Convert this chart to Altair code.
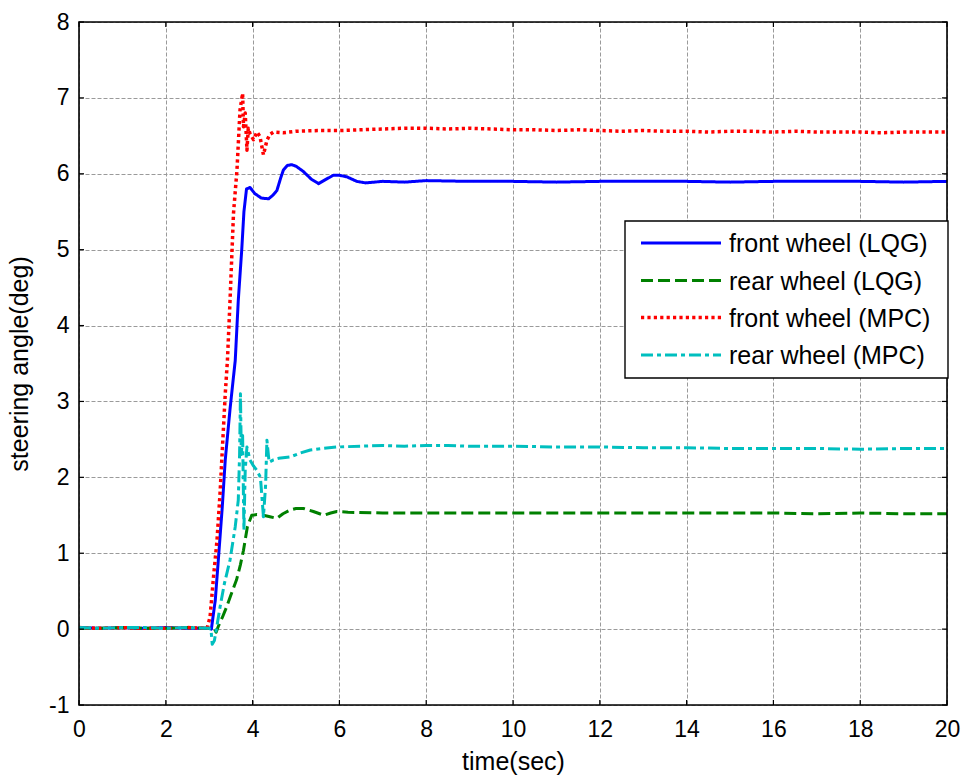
import altair as alt
import pandas as pd

# ---------------- data ----------------
series_names = ["front wheel (LQG)", "rear wheel (LQG)", "front wheel (MPC)", "rear wheel (MPC)"]
series_colors = ["#0000ff", "#008000", "#ff0000", "#00bfbf"]

t_front_lqg = [0, 0.5, 1, 1.5, 2, 2.5, 3.0, 3.05, 3.14, 3.21, 3.3, 3.37, 3.48, 3.6, 3.67, 3.75, 3.8,
               3.86, 3.94, 4.05, 4.2, 4.37, 4.47, 4.56, 4.65, 4.71, 4.8, 4.9, 5.0, 5.17, 5.35, 5.52,
               5.7, 5.86, 6.0, 6.17, 6.4, 6.6, 7, 7.5, 8, 9, 10, 11, 12, 13, 14, 15, 16, 17, 18, 19, 20]
y_front_lqg = [0.02, 0.01, 0.02, 0.01, 0.02, 0.01, 0.01, 0.0, 0.38, 0.91, 1.6, 2.23, 2.9, 3.54, 4.33,
               5.0, 5.5, 5.8, 5.82, 5.74, 5.68, 5.67, 5.72, 5.78, 5.95, 6.05, 6.11, 6.12, 6.1, 6.03,
               5.93, 5.87, 5.93, 5.98, 5.98, 5.96, 5.9, 5.88, 5.9, 5.89, 5.91, 5.9, 5.9, 5.89, 5.9,
               5.9, 5.9, 5.89, 5.9, 5.9, 5.9, 5.89, 5.9]

t_rear_lqg = [0, 0.5, 1, 1.5, 2, 2.5, 3.0, 3.12, 3.16, 3.22, 3.3, 3.4, 3.5, 3.63, 3.72, 3.79, 3.88,
              3.98, 4.1, 4.25, 4.4, 4.56, 4.7, 4.87, 5.0, 5.17, 5.4, 5.64, 5.8, 5.94, 6.2, 7, 8, 9,
              10, 11, 12, 13, 14, 15, 16, 17, 18, 19, 20]
y_rear_lqg = [0.01, 0.01, 0.02, 0.01, 0.01, 0.02, 0.01, 0.0, -0.04, 0.05, 0.15, 0.29, 0.45, 0.65,
              0.85, 1.04, 1.35, 1.5, 1.51, 1.5, 1.48, 1.46, 1.52, 1.57, 1.59, 1.59, 1.55, 1.5, 1.53,
              1.55, 1.54, 1.53, 1.53, 1.53, 1.53, 1.53, 1.53, 1.53, 1.53, 1.53, 1.53, 1.52, 1.53,
              1.52, 1.52]

t_front_mpc = [0, 0.5, 1, 1.5, 2, 2.5, 2.95, 3.02, 3.1, 3.18, 3.25, 3.29, 3.37, 3.42, 3.48, 3.56,
               3.64, 3.71, 3.77, 3.79, 3.83, 3.87, 3.9, 3.94, 4.02, 4.1, 4.17, 4.25, 4.33, 4.4, 4.48,
               4.7, 5.0, 5.5, 6.0, 6.5, 7.0, 7.5, 8.0, 8.5, 9.0, 9.5, 10, 10.5, 11, 11.5, 12, 12.5,
               13, 13.5, 14, 14.5, 15, 15.5, 16, 16.5, 17, 17.5, 18, 18.5, 19, 19.5, 20]
y_front_mpc = [0.02, 0.01, 0.02, 0.01, 0.01, 0.02, 0.01, 0.16, 0.69, 1.17, 1.79, 2.23, 3.1, 3.54,
               4.33, 5.48, 6.05, 6.84, 7.06, 6.62, 6.8, 6.31, 6.6, 6.53, 6.45, 6.55, 6.49, 6.25,
               6.44, 6.52, 6.55, 6.54, 6.56, 6.57, 6.57, 6.58, 6.59, 6.6, 6.6, 6.59, 6.6, 6.59,
               6.58, 6.58, 6.57, 6.58, 6.57, 6.56, 6.57, 6.56, 6.56, 6.55, 6.56, 6.56, 6.55, 6.56,
               6.55, 6.55, 6.55, 6.54, 6.55, 6.55, 6.55]

t_rear_mpc = [0, 0.5, 1, 1.5, 2, 2.5, 3.0, 3.04, 3.07, 3.12, 3.18, 3.25, 3.35, 3.48, 3.6, 3.67, 3.7,
              3.72, 3.74, 3.77, 3.8, 3.83, 3.87, 3.94, 4.02, 4.1, 4.18, 4.25, 4.3, 4.33, 4.38, 4.48,
              4.6, 4.87, 5.1, 5.33, 5.6, 5.94, 6.5, 7, 7.5, 8, 8.5, 9, 10, 11, 12, 13, 14, 15, 16,
              17, 18, 19, 20]
y_rear_mpc = [0.02, 0.01, 0.02, 0.02, 0.01, 0.02, 0.01, 0.0, -0.2, -0.15, 0.05, 0.29, 0.6, 0.91,
              1.35, 1.7, 2.3, 3.1, 2.3, 2.55, 1.3, 2.1, 2.4, 2.23, 2.15, 2.09, 2.0, 1.48, 1.9, 2.49,
              2.2, 2.23, 2.25, 2.27, 2.32, 2.36, 2.38, 2.4, 2.41, 2.42, 2.41, 2.42, 2.42, 2.41, 2.41,
              2.4, 2.4, 2.39, 2.39, 2.38, 2.38, 2.38, 2.37, 2.38, 2.38]

x_ticks = [0, 2, 4, 6, 8, 10, 12, 14, 16, 18, 20]
y_ticks = [-1, 0, 1, 2, 3, 4, 5, 6, 7, 8]

# ---------------- build tables ----------------
frames = []
for name, ts, ys in zip(series_names,
                        [t_front_lqg, t_rear_lqg, t_front_mpc, t_rear_mpc],
                        [y_front_lqg, y_rear_lqg, y_front_mpc, y_rear_mpc]):
    frames.append(pd.DataFrame({"t": ts, "angle": ys, "series": name}))
df = pd.concat(frames, ignore_index=True)

W, H = 868, 683
FONT = "Liberation Sans"
dashes = [[1, 0], [12, 5], [3.2, 3.2], [12, 4, 4, 4]]
widths = [3, 3, 3.5, 3]

x_scale = alt.Scale(domain=[0, 20], nice=False, zero=False)
y_scale = alt.Scale(domain=[-1, 8], nice=False, zero=False)

GRID_COLOR = "#9a9a9a"
x_axis = alt.Axis(values=x_ticks, grid=True, gridDash=[4, 2], gridColor=GRID_COLOR, gridWidth=1,
                  ticks=False, tickSize=0, domain=False, labelFontSize=23, labelPadding=13,
                  labelFlush=False, labelOverlap=False, labelColor="black", labelFont=FONT,
                  title="time(sec)", titleFontSize=25, titleFontWeight="normal", titleFont=FONT,
                  titleColor="black", titleX=W / 2, titleY=64, titleAlign="center",
                  titleBaseline="alphabetic")
y_axis = alt.Axis(values=y_ticks, grid=True, gridDash=[4, 2], gridColor=GRID_COLOR, gridWidth=1,
                  ticks=False, tickSize=0, domain=False, labelFontSize=23, labelPadding=10,
                  labelFlush=False, labelOverlap=False, labelColor="black", labelFont=FONT,
                  labelExpr="'' + datum.value",
                  title="steering angle(deg)", titleFontSize=25, titleFontWeight="normal",
                  titleFont=FONT, titleColor="black", titleAngle=270, titleX=-52, titleY=H / 2,
                  titleAlign="center", titleBaseline="alphabetic")

layers = []
base = alt.Chart(df)
for i, name in enumerate(series_names):
    layers.append(
        base.transform_filter(alt.datum.series == name)
        .mark_line(strokeWidth=widths[i], strokeDash=dashes[i], clip=True, strokeJoin="round")
        .encode(
            x=alt.X("t:Q", scale=x_scale, axis=x_axis),
            y=alt.Y("angle:Q", scale=y_scale, axis=y_axis),
            color=alt.Color("series:N",
                            scale=alt.Scale(domain=series_names, range=series_colors),
                            legend=None),
        )
    )

# inward ticks on all four sides
xt = pd.DataFrame({"t": x_ticks})
yt = pd.DataFrame({"angle": y_ticks})
TL = 5
tick_layers = [
    alt.Chart(xt).mark_rule(color="black", strokeWidth=1.2).encode(
        x=alt.X("t:Q", scale=x_scale, axis=x_axis), y=alt.value(H), y2=alt.value(H - TL)),
    alt.Chart(xt).mark_rule(color="black", strokeWidth=1.2).encode(
        x=alt.X("t:Q", scale=x_scale, axis=x_axis), y=alt.value(0), y2=alt.value(TL)),
    alt.Chart(yt).mark_rule(color="black", strokeWidth=1.2).encode(
        y=alt.Y("angle:Q", scale=y_scale, axis=y_axis), x=alt.value(0), x2=alt.value(TL)),
    alt.Chart(yt).mark_rule(color="black", strokeWidth=1.2).encode(
        y=alt.Y("angle:Q", scale=y_scale, axis=y_axis), x=alt.value(W), x2=alt.value(W - TL)),
]

# plot frame drawn on top of the grid
frame_layer = alt.Chart(pd.DataFrame({"a": [0]})).mark_rect(
    fill=None, stroke="black", strokeWidth=1.6
).encode(x=alt.value(0), x2=alt.value(W), y=alt.value(0), y2=alt.value(H))

# legend box (MATLAB style)
LX0, LX1, LY0, LY1 = 546, 869, 199, 356
legend_layers = [
    alt.Chart(pd.DataFrame({"a": [0]})).mark_rect(fill="white", stroke="black", strokeWidth=1.4)
    .encode(x=alt.value(LX0), x2=alt.value(LX1), y=alt.value(LY0), y2=alt.value(LY1))
]
row_y = [221, 258.5, 295.5, 333]
for i, name in enumerate(series_names):
    one = pd.DataFrame({"label": [name]})
    legend_layers.append(
        alt.Chart(one).mark_rule(color=series_colors[i], strokeWidth=widths[i] if i != 2 else 3.5,
                                 strokeDash=dashes[i])
        .encode(x=alt.value(562), x2=alt.value(642), y=alt.value(row_y[i]))
    )
    legend_layers.append(
        alt.Chart(one).mark_text(align="left", baseline="middle", font=FONT, fontSize=25,
                                 color="black")
        .encode(x=alt.value(650), y=alt.value(row_y[i] + 1), text="label:N")
    )

chart = alt.layer(*layers, *tick_layers, frame_layer, *legend_layers).properties(
    width=W, height=H,
    autosize=alt.AutoSizeParams(type="none"),
    padding={"left": 79, "top": 22, "right": 18, "bottom": 73},
).configure_view(stroke="black", strokeWidth=1.2).configure(background="white")

chart.save("out.html", embed_options={"renderer": "svg", "actions": False})
